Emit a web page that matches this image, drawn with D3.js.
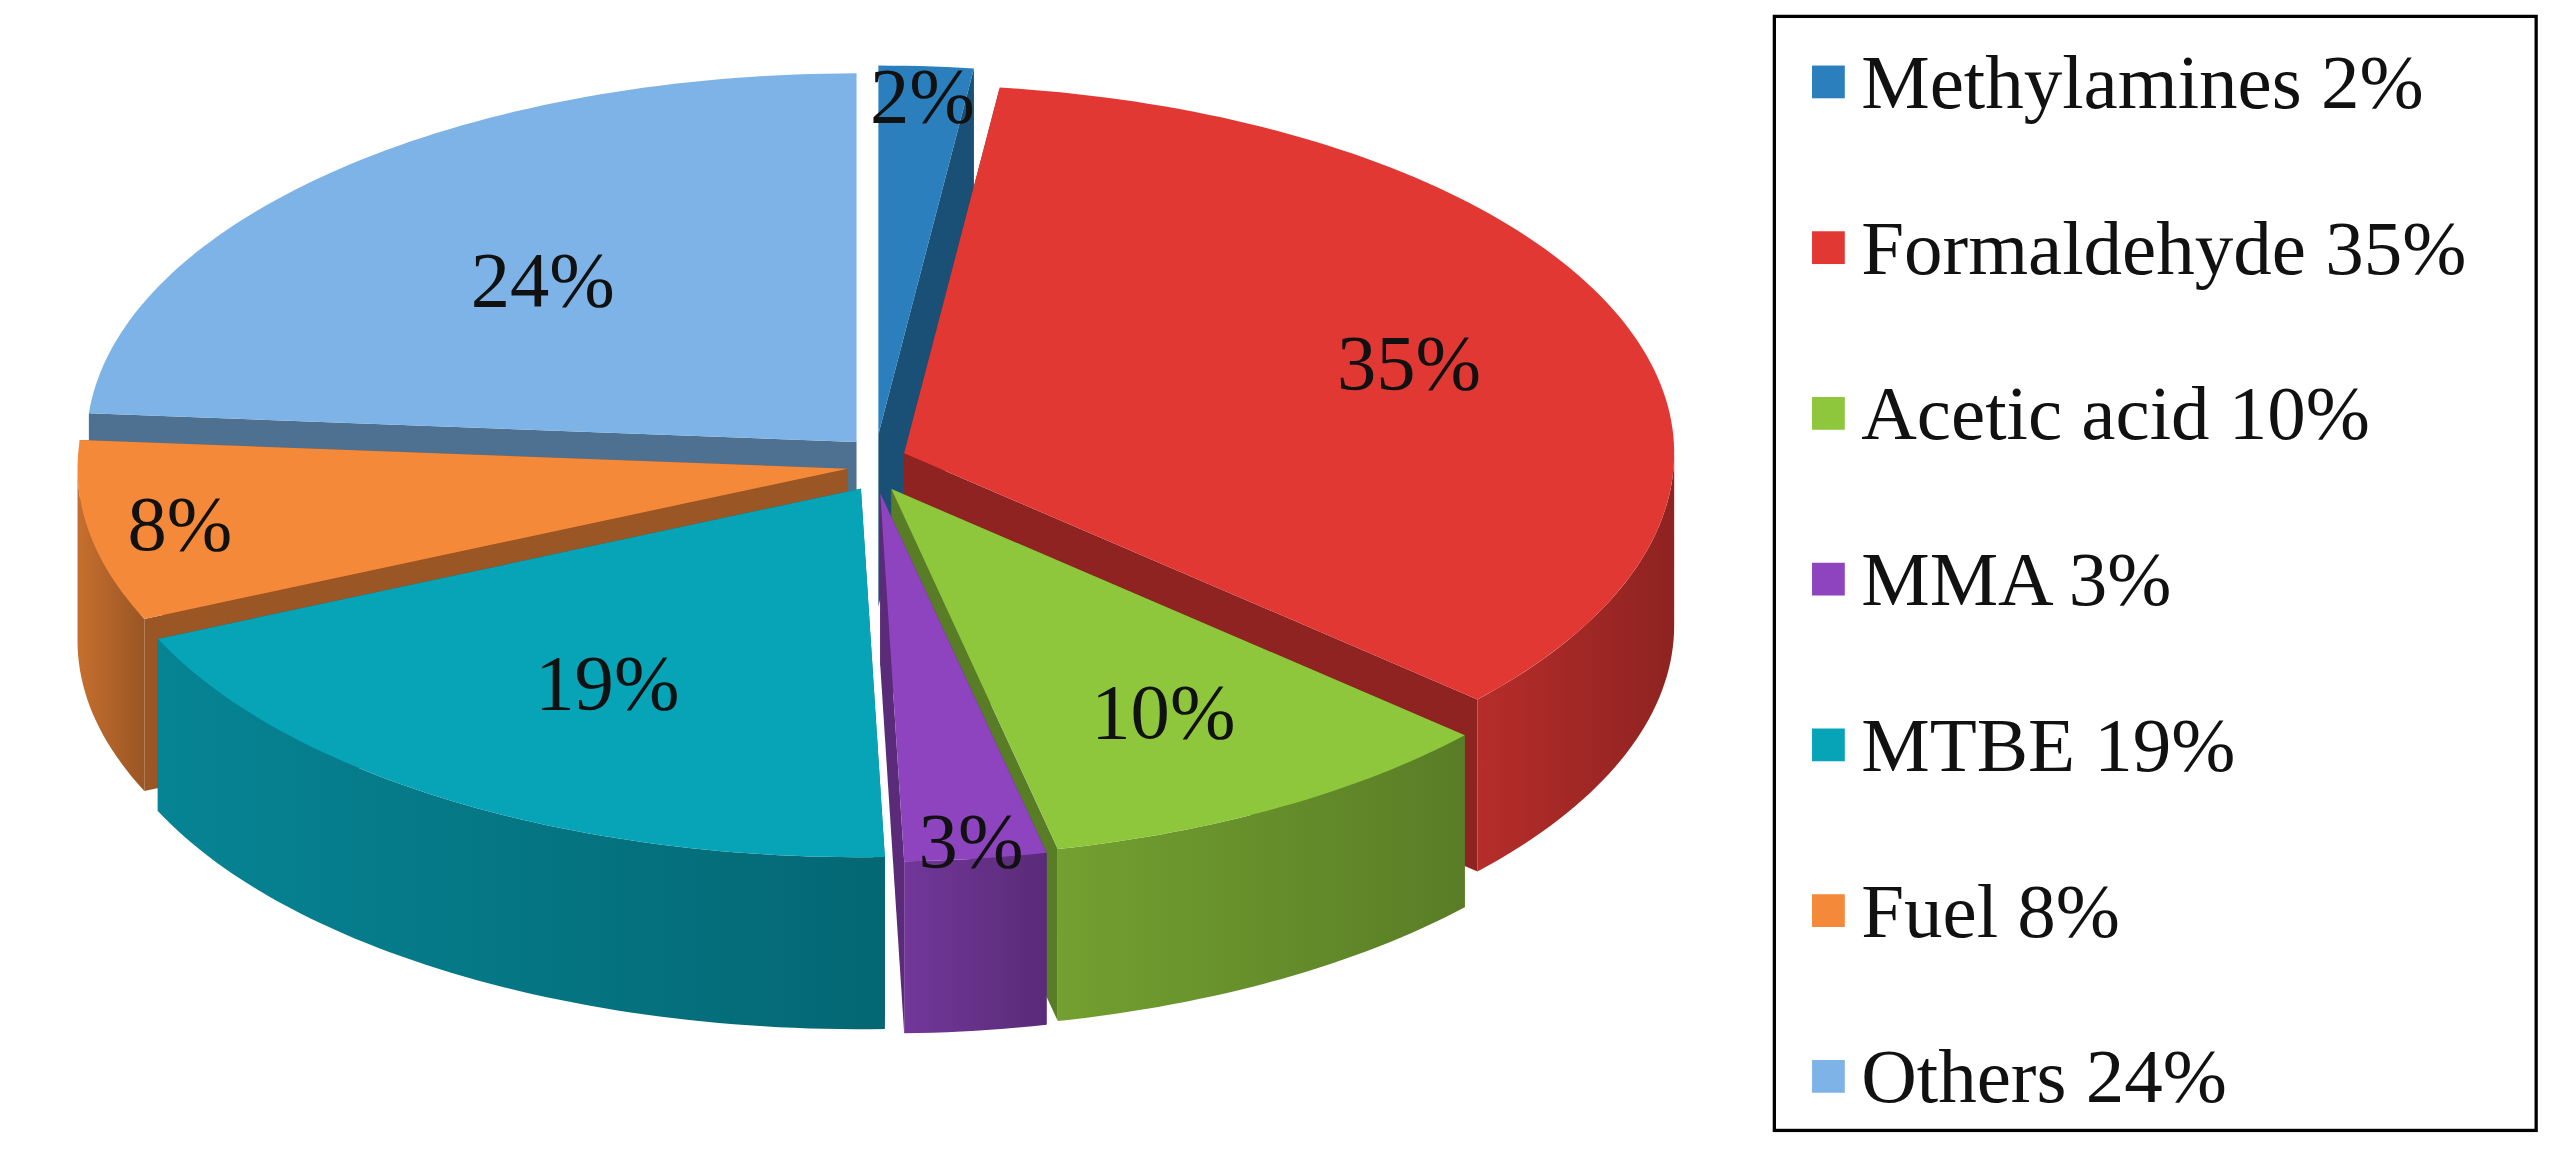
<!DOCTYPE html>
<html><head><meta charset="utf-8">
<script src="https://cdn.jsdelivr.net/npm/d3@7"></script>
<style>body{margin:0;background:#fff}</style>
</head><body>
<svg id="chart" width="2569" height="1155" viewBox="0 0 1568 705"></svg>
<script>
// Data
const categories = ["Methylamines", "Formaldehyde", "Acetic acid", "MMA", "MTBE", "Fuel", "Others"];
const shares = [2, 35, 10, 3, 19, 8, 24];
const colors = ["#2b7fbc", "#e23834", "#8ec63c", "#8d44be", "#07a3b7", "#f5893a", "#7db3e6"];
const labelRadius = [0.92, 0.7, 0.7, 0.95, 0.62, 0.88, 0.6];

const svg = d3.select("#chart");
const cx = 535, cy = 283, rx = 470, ry = 225, depth = 105, explode = 18;
const defs = svg.append("defs");

const pie = d3.pie().sort(null).value(d => d.v);
const arcs = pie(categories.map((c, i) => ({c, v: shares[i], i})));

function proj(a, r, off) {
  return [off[0] + cx + r * rx * Math.sin(a), off[1] + cy - r * ry * Math.cos(a)];
}
function arcPts(a0, a1, off, dy) {
  const n = Math.max(2, Math.ceil((a1 - a0) / 0.02));
  return d3.range(n + 1).map(k => {
    const p = proj(a0 + (a1 - a0) * k / n, 1, off);
    return [p[0], p[1] + dy];
  });
}
const line = pts => "M" + pts.map(p => p.join(",")).join("L") + "Z";

arcs.forEach(d => {
  d.mid = (d.startAngle + d.endAngle) / 2;
  d.off = [explode * Math.sin(d.mid), -explode * Math.cos(d.mid)];
});

const order = arcs.slice().sort((a, b) => Math.cos(b.mid) - Math.cos(a.mid));
order.forEach(d => {
  const base = d3.color(colors[d.data.i]);
  const dark = base.darker(1.3).formatHex();
  const mid = base.darker(0.6).formatHex();
  const gid = "g" + d.data.i;
  const gr = defs.append("linearGradient").attr("id", gid);
  gr.append("stop").attr("offset", "0%").attr("stop-color", mid);
  gr.append("stop").attr("offset", "100%").attr("stop-color", dark);
  const g = svg.append("g");
  const c0 = proj(0, 0, d.off);
  // radial faces
  [d.startAngle, d.endAngle].forEach(a => {
    const e = proj(a, 1, d.off);
    g.append("path").attr("fill", dark)
      .attr("d", line([c0, e, [e[0], e[1] + depth], [c0[0], c0[1] + depth]]));
  });
  // outer wall on the front half
  const f0 = Math.max(d.startAngle, Math.PI / 2), f1 = Math.min(d.endAngle, 3 * Math.PI / 2);
  if (f1 > f0) {
    const top = arcPts(f0, f1, d.off, 0);
    const bot = arcPts(f0, f1, d.off, depth).reverse();
    g.append("path").attr("fill", `url(#${gid})`).attr("d", line(top.concat(bot)));
  }
  // top face
  g.append("path").attr("fill", colors[d.data.i])
    .attr("d", line([c0].concat(arcPts(d.startAngle, d.endAngle, d.off, 0))));
});

// slice labels
arcs.forEach(d => {
  const p = proj(d.mid, labelRadius[d.data.i], d.off);
  svg.append("text").attr("x", p[0]).attr("y", p[1])
    .attr("text-anchor", "middle").attr("dominant-baseline", "central")
    .attr("font-family", "Liberation Serif, serif").attr("font-size", 48)
    .attr("fill", "#111").text(shares[d.data.i] + "%");
});

// legend
const lg = svg.append("g");
lg.append("rect").attr("x", 1083).attr("y", 10).attr("width", 465).attr("height", 680)
  .attr("fill", "#fff").attr("stroke", "#000").attr("stroke-width", 2);
const ly = d3.scalePoint().domain(categories).range([50, 657]);
categories.forEach((c, i) => {
  lg.append("rect").attr("x", 1106).attr("y", ly(c) - 10).attr("width", 20).attr("height", 20)
    .attr("fill", colors[i]);
  lg.append("text").attr("x", 1136).attr("y", ly(c)).attr("dominant-baseline", "central")
    .attr("font-family", "Liberation Serif, serif").attr("font-size", 47).attr("fill", "#111")
    .text(`${c} ${shares[i]}%`);
});
</script>
</body></html>
